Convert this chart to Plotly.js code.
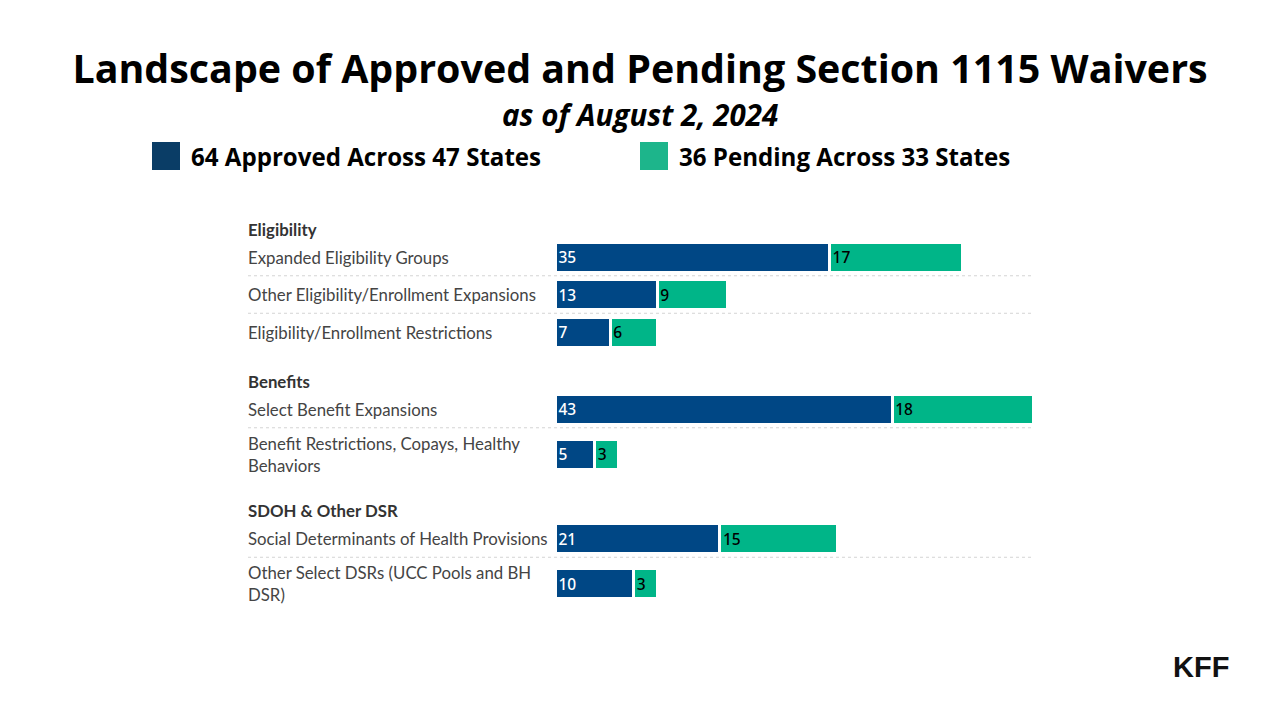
<!DOCTYPE html>
<html>
<head>
<meta charset="utf-8">
<script src="https://cdn.plot.ly/plotly-3.0.1.min.js"></script>
<style>html,body{margin:0;padding:0;background:#fff;}#chart{width:1280px;height:720px;}</style>
</head>
<body>
<div id="chart"></div>
<script>
// ---- Data ----
const groups = ['Eligibility', 'Benefits', 'SDOH & Other DSR'];
const categories = [
  'Expanded Eligibility Groups',
  'Other Eligibility/Enrollment Expansions',
  'Eligibility/Enrollment Restrictions',
  'Select Benefit Expansions',
  'Benefit Restrictions, Copays, Healthy<br>Behaviors',
  'Social Determinants of Health Provisions',
  'Other Select DSRs (UCC Pools and BH<br>DSR)'
];
const categoryGroup = [0, 0, 0, 1, 1, 2, 2];
const approved = [35, 13, 7, 43, 5, 21, 10];
const pending = [17, 9, 6, 18, 3, 15, 3];
const seriesNames = ['64 Approved Across 47 States', '36 Pending Across 33 States'];

// ---- Layout helpers (pixel-based vertical layout) ----
const W = 1280, H = 720;
const BLUE = '#004785', GREEN = '#00b588';
const pxPerUnit = 7.83, zeroPx = 555.5;
const firstHeader = 229, headerToRow = 28, headerAfterRow = 30.25;
const rowH = n => 37.5 + (n - 1) * 15;   // slot height for a label of n lines

const nLines = categories.map(c => c.split('<br>').length);
const rowY = [], headerY = [];
categories.forEach((c, i) => {
  const firstInGroup = i === 0 || categoryGroup[i] !== categoryGroup[i - 1];
  let y;
  if (firstInGroup) {
    const hy = i === 0 ? firstHeader : rowY[i - 1] + rowH(nLines[i - 1]) / 2 + headerAfterRow;
    headerY.push(hy);
    y = hy + headerToRow;
  } else {
    y = rowY[i - 1] + (rowH(nLines[i - 1]) + rowH(nLines[i])) / 2;
  }
  rowY.push(y);
});

const labelX = 246 / W;
const labelFont = {family: 'Lato, sans-serif', size: 16.8, color: '#444'};
const annotations = [];
const shapes = [];
categories.forEach((c, i) => {
  annotations.push({xref: 'paper', yref: 'y', x: labelX, y: rowY[i], text: c, showarrow: false,
    xanchor: 'left', yanchor: 'middle', align: 'left', font: labelFont});
  const next = i + 1;
  if (next < categories.length && categoryGroup[next] === categoryGroup[i]) {
    const ly = rowY[i] + rowH(nLines[i]) / 2;
    shapes.push({type: 'line', xref: 'paper', yref: 'y', x0: 248 / W, x1: 1032 / W,
      y0: ly, y1: ly, line: {color: '#d4d4d4', width: 1, dash: 'dot'}});
  }
});
groups.forEach((g, j) => {
  annotations.push({xref: 'paper', yref: 'y', x: labelX, y: headerY[j], text: '<b>' + g + '</b>', showarrow: false,
    xanchor: 'left', yanchor: 'middle', font: {family: 'Lato, sans-serif', size: 16.8, color: '#333'}});
});

// Subtitle
annotations.push({xref: 'paper', yref: 'paper', x: 0.5, y: 1 - 115 / H, text: '<b><i>as of August 2, 2024</i></b>',
  showarrow: false, xanchor: 'center', yanchor: 'middle', font: {family: 'Open Sans, sans-serif', size: 29.5, color: '#000'}});
// Legend
const legendSpec = [{x: 152, color: '#0a3d66'}, {x: 640, color: '#1db58b'}];
legendSpec.forEach((l, k) => {
  shapes.push({type: 'rect', xref: 'paper', yref: 'paper', x0: l.x / W, x1: (l.x + 28) / W,
    y0: 1 - 170 / H, y1: 1 - 142 / H, fillcolor: l.color, line: {width: 0}});
  annotations.push({xref: 'paper', yref: 'paper', x: (l.x + 37) / W, y: 1 - 156 / H, text: '<b>' + seriesNames[k] + '</b>',
    showarrow: false, xanchor: 'left', yanchor: 'middle', font: {family: 'Open Sans, sans-serif', size: 24.1, color: '#000'}});
});
// Logo
annotations.push({xref: 'paper', yref: 'paper', x: 1231 / W, y: 1 - 667 / H, text: '<b>KFF</b>', showarrow: false,
  xanchor: 'right', yanchor: 'middle', font: {family: 'Liberation Sans, Arial, sans-serif', size: 29, color: '#111'}});

const barCommon = {type: 'bar', orientation: 'h', width: 30, textposition: 'inside', insidetextanchor: 'start',
  constraintext: 'none', hoverinfo: 'skip', cliponaxis: false};
const traces = [
  Object.assign({}, barCommon, {name: seriesNames[0], x: approved, y: rowY, text: approved.map(String),
    marker: {color: BLUE, line: {color: '#fff', width: 3}},
    textfont: {family: 'Noto Sans, sans-serif', size: 15.5, color: '#fff', weight: 500}}),
  Object.assign({}, barCommon, {name: seriesNames[1], x: pending, y: rowY, text: pending.map(String),
    marker: {color: GREEN, line: {color: '#fff', width: 3}},
    textfont: {family: 'Noto Sans, sans-serif', size: 15.5, color: '#000', weight: 500}})
];

const layout = {
  width: W, height: H, barmode: 'stack', showlegend: false,
  margin: {l: 0, r: 0, t: 0, b: 0, pad: 0},
  paper_bgcolor: '#fff', plot_bgcolor: '#fff',
  title: {text: '<b>Landscape of Approved and Pending Section 1115 Waivers</b>', x: 0.5, xanchor: 'center',
    y: 1 - 69 / H, yanchor: 'middle', font: {family: 'Open Sans, sans-serif', size: 39.4, color: '#000'}},
  xaxis: {range: [-zeroPx / pxPerUnit, (W - zeroPx) / pxPerUnit], visible: false, fixedrange: true},
  yaxis: {range: [H, 0], visible: false, fixedrange: true},
  annotations: annotations, shapes: shapes
};
Plotly.newPlot('chart', traces, layout, {staticPlot: true, displayModeBar: false});
</script>
</body>
</html>
